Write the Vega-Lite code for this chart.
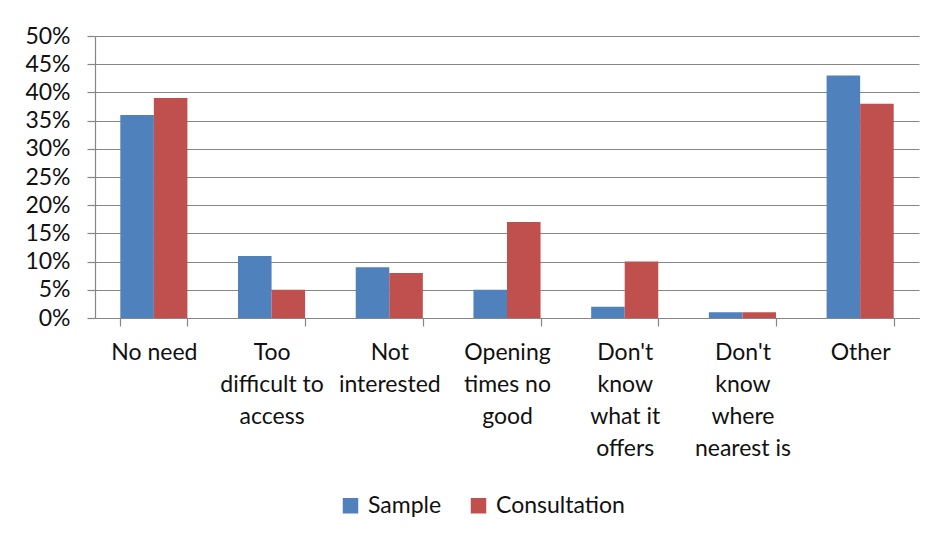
{
  "$schema": "https://vega.github.io/schema/vega-lite/v6.json",
  "width": 824,
  "height": 282,
  "autosize": {"type": "none"},
  "padding": {"left": 95, "top": 36, "right": 17, "bottom": 225},
  "background": "white",
  "config": {
    "font": "Lato",
    "view": {"stroke": null},
    "axis": {"labelFont": "Lato", "labelColor": "#111111", "domainColor": "#868686", "tickColor": "#868686", "gridColor": "#868686", "gridOpacity": 1, "domainWidth": 1.2, "gridWidth": 1.2, "tickWidth": 1.2}
  },
  "data": {
    "values": [
      {"reason": "No need", "series": "Sample", "value": 0.36},
      {"reason": "No need", "series": "Consultation", "value": 0.39},
      {"reason": "Too difficult to access", "series": "Sample", "value": 0.11},
      {"reason": "Too difficult to access", "series": "Consultation", "value": 0.05},
      {"reason": "Not interested", "series": "Sample", "value": 0.09},
      {"reason": "Not interested", "series": "Consultation", "value": 0.08},
      {"reason": "Opening times no good", "series": "Sample", "value": 0.05},
      {"reason": "Opening times no good", "series": "Consultation", "value": 0.17},
      {"reason": "Don't know what it offers", "series": "Sample", "value": 0.02},
      {"reason": "Don't know what it offers", "series": "Consultation", "value": 0.10},
      {"reason": "Don't know where nearest is", "series": "Sample", "value": 0.01},
      {"reason": "Don't know where nearest is", "series": "Consultation", "value": 0.01},
      {"reason": "Other", "series": "Sample", "value": 0.43},
      {"reason": "Other", "series": "Consultation", "value": 0.38}
    ]
  },
  "mark": {"type": "bar"},
  "encoding": {
    "x": {
      "field": "reason",
      "type": "nominal",
      "sort": null,
      "title": null,
      "scale": {"paddingInner": 0.43, "paddingOuter": 0.215},
      "axis": {
        "labelAngle": 0,
        "tickBand": "extent",
        "tickSize": 8,
        "labelPadding": 15,
        "labelFontSize": 23,
        "labelLineHeight": 32,
        "labelLimit": 0,
        "grid": false,
        "labelExpr": "datum.value == 'Too difficult to access' ? ['Too', 'difficult to', 'access'] : datum.value == 'Not interested' ? ['Not', 'interested'] : datum.value == 'Opening times no good' ? ['Opening', 'times no', 'good'] : datum.value == \"Don't know what it offers\" ? [\"Don't\", 'know', 'what it', 'offers'] : datum.value == \"Don't know where nearest is\" ? [\"Don't\", 'know', 'where', 'nearest is'] : datum.value"
      }
    },
    "xOffset": {
      "field": "series",
      "type": "nominal",
      "sort": ["Sample", "Consultation"],
      "scale": {"paddingInner": 0, "paddingOuter": 0}
    },
    "y": {
      "field": "value",
      "type": "quantitative",
      "title": null,
      "scale": {"domain": [0, 0.5], "nice": false},
      "axis": {
        "values": [0, 0.05, 0.1, 0.15, 0.2, 0.25, 0.3, 0.35, 0.4, 0.45, 0.5],
        "format": ".0%",
        "tickSize": 8,
        "labelPadding": 17,
        "labelFontSize": 23,
        "grid": true
      }
    },
    "color": {
      "field": "series",
      "type": "nominal",
      "sort": ["Sample", "Consultation"],
      "scale": {"domain": ["Sample", "Consultation"], "range": ["#4F81BD", "#C0504D"]},
      "legend": {
        "title": null,
        "orient": "none",
        "direction": "horizontal",
        "legendX": 244,
        "legendY": 458,
        "symbolType": "square",
        "symbolSize": 240,
        "symbolStrokeWidth": 0,
        "labelFontSize": 23,
        "labelColor": "#111111",
        "labelOffset": 6,
        "columnPadding": 25
      }
    }
  }
}
